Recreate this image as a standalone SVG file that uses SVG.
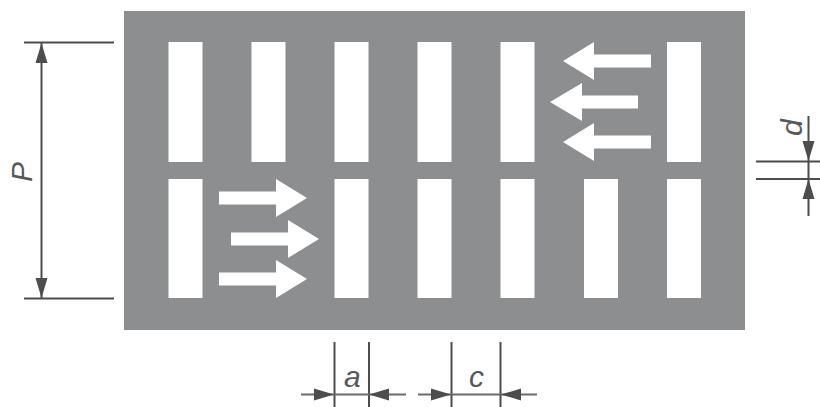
<svg xmlns="http://www.w3.org/2000/svg" width="820" height="407" viewBox="0 0 820 407">
<style>
.slot,.flow{fill:#fff}
.dim{stroke:#4d4d4f;stroke-width:2;fill:none}
.thin{stroke:#6a6a6c;stroke-width:2;fill:none}
.head{fill:#4d4d4f}
text{font-family:"Liberation Sans",Arial,sans-serif;font-style:italic;font-size:30px;fill:#58585a}
</style>
<rect width="820" height="407" fill="#fff"/>
<g id="plate">
<rect x="124" y="11" width="621" height="319" fill="#8d8e90"/>
<rect class="slot" x="168.500" y="42" width="34" height="120"/>
<rect class="slot" x="251.500" y="42" width="34" height="120"/>
<rect class="slot" x="334.500" y="42" width="34" height="120"/>
<rect class="slot" x="417.500" y="42" width="34" height="120"/>
<rect class="slot" x="500.500" y="42" width="34" height="120"/>
<rect class="slot" x="667" y="42" width="34" height="120"/>
<rect class="slot" x="168.500" y="179" width="34" height="119"/>
<rect class="slot" x="334.500" y="179" width="34" height="119"/>
<rect class="slot" x="417.500" y="179" width="34" height="119"/>
<rect class="slot" x="500.500" y="179" width="34" height="119"/>
<rect class="slot" x="584" y="179" width="34" height="119"/>
<rect class="slot" x="667" y="179" width="34" height="119"/>
</g>
<g id="flow-left">
<path class="flow" d="M651 54.500V67.500H594V80L563 61L594 42V54.500Z"/>
<path class="flow" d="M638 95.500V108.500H582V121L550 102L582 83V95.500Z"/>
<path class="flow" d="M651 135.500V148.500H594V161L563 142L594 123V135.500Z"/>
</g>
<g id="flow-right">
<path class="flow" d="M219 191.500V204.500H276V217L307 198L276 179V191.500Z"/>
<path class="flow" d="M231 232.500V245.500H288V258L319 239L288 220V232.500Z"/>
<path class="flow" d="M219 272.500V285.500H276V298L307 279L276 260V272.500Z"/>
</g>
<g id="connectors">
<path class="dim" d="M24 42.500H114M24 298.500H114M41.500 42V298"/>
<path class="head" d="M41.500 43L47.500 63H35.500ZM41.500 298L47.500 278H35.500Z"/>
<path class="dim" d="M334.500 342V407M369 342V407M451.500 342V407M500.500 342V407M756 161.500H820M756 179H820M808.500 116V216"/>
<path class="thin" d="M301 394.500H406M418 394.500H537"/>
<path class="head" d="M334 394.500L314 388.500V400.500ZM369 394.500L389 388.500V400.500ZM451 394.500L431 388.500V400.500ZM501 394.500L521 388.500V400.500ZM808.500 161L802.500 141H814.500ZM808.500 179L802.500 199H814.500Z"/>
</g>
<g id="labels">
<text x="344" y="387">a</text>
<text x="469" y="387">c</text>
<text transform="translate(32 182) rotate(-90)">P</text>
<text transform="translate(802 136) rotate(-90)">d</text>
</g>
</svg>
